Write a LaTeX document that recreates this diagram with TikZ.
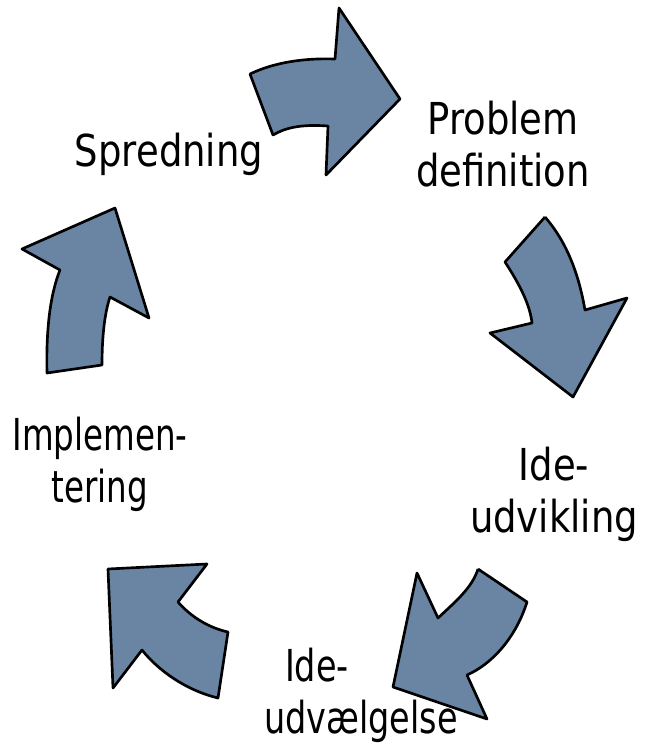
\documentclass[tikz,border=0pt]{standalone}
\usepackage{fontspec}
\setmainfont{DejaVu Sans}
\definecolor{arrowblue}{RGB}{106,133,163}

\begin{document}
\begin{tikzpicture}[x=0.75pt, y=-0.75pt,
		pil/.style={draw=black, line width=2pt, line join=round, fill=arrowblue},
		tekst/.style={font=\fontsize{33}{39}\selectfont, align=center, xscale=0.84, transform shape, inner sep=0pt, anchor=base}]
		\useasboundingbox (0,0) rectangle (652,748);
		
		\filldraw[pil] (250,74) .. controls (275,62) and (305,58) .. (335,59) -- (339,8) -- (400,99) -- (326,175) -- (328,126) .. controls (300,124) and (285,128) .. (273,135) -- cycle;
		\filldraw[pil] (545,217) -- (505,262) .. controls (520,285) and (530,305) .. (532,323) -- (490,333) -- (573,397) -- (627,298) -- (585,310) .. controls (578,270) and (565,240) .. (545,217);
		\filldraw[pil] (478,569) -- (527,602) .. controls (515,640) and (490,665) .. (467,675) -- (487,719) -- (393,687) -- (417,573) -- (438,618) .. controls (455,602) and (472,588) .. (478,569);
		\filldraw[pil] (108,569) -- (207,564) -- (178,602) .. controls (192,618) and (210,628) .. (228,632) -- (218,698) .. controls (185,690) and (158,670) .. (142,650) -- (113,688) -- cycle;
		\filldraw[pil] (22,249) -- (115,208) -- (149,318) -- (110,297) .. controls (104,315) and (102,340) .. (102,365) -- (47,373) .. controls (46,330) and (50,295) .. (60,270) -- cycle;
		
		\node[tekst] (spredning) at (169,167) {Spredning};
		\node[tekst] (problem) at (503,187) {Problem\\definition};
		\node[tekst] (udvikling) at (554,532) {Ide-\\udvikling};
		\node[tekst, xscale=0.905] (udvaelgelse) at (361,733) {Ide-\hspace*{87pt}\\udvælgelse};
		\node[tekst, xscale=0.88] (implementering) at (100,502) {Implemen-\\tering};
		
	\end{tikzpicture}
\end{document}
